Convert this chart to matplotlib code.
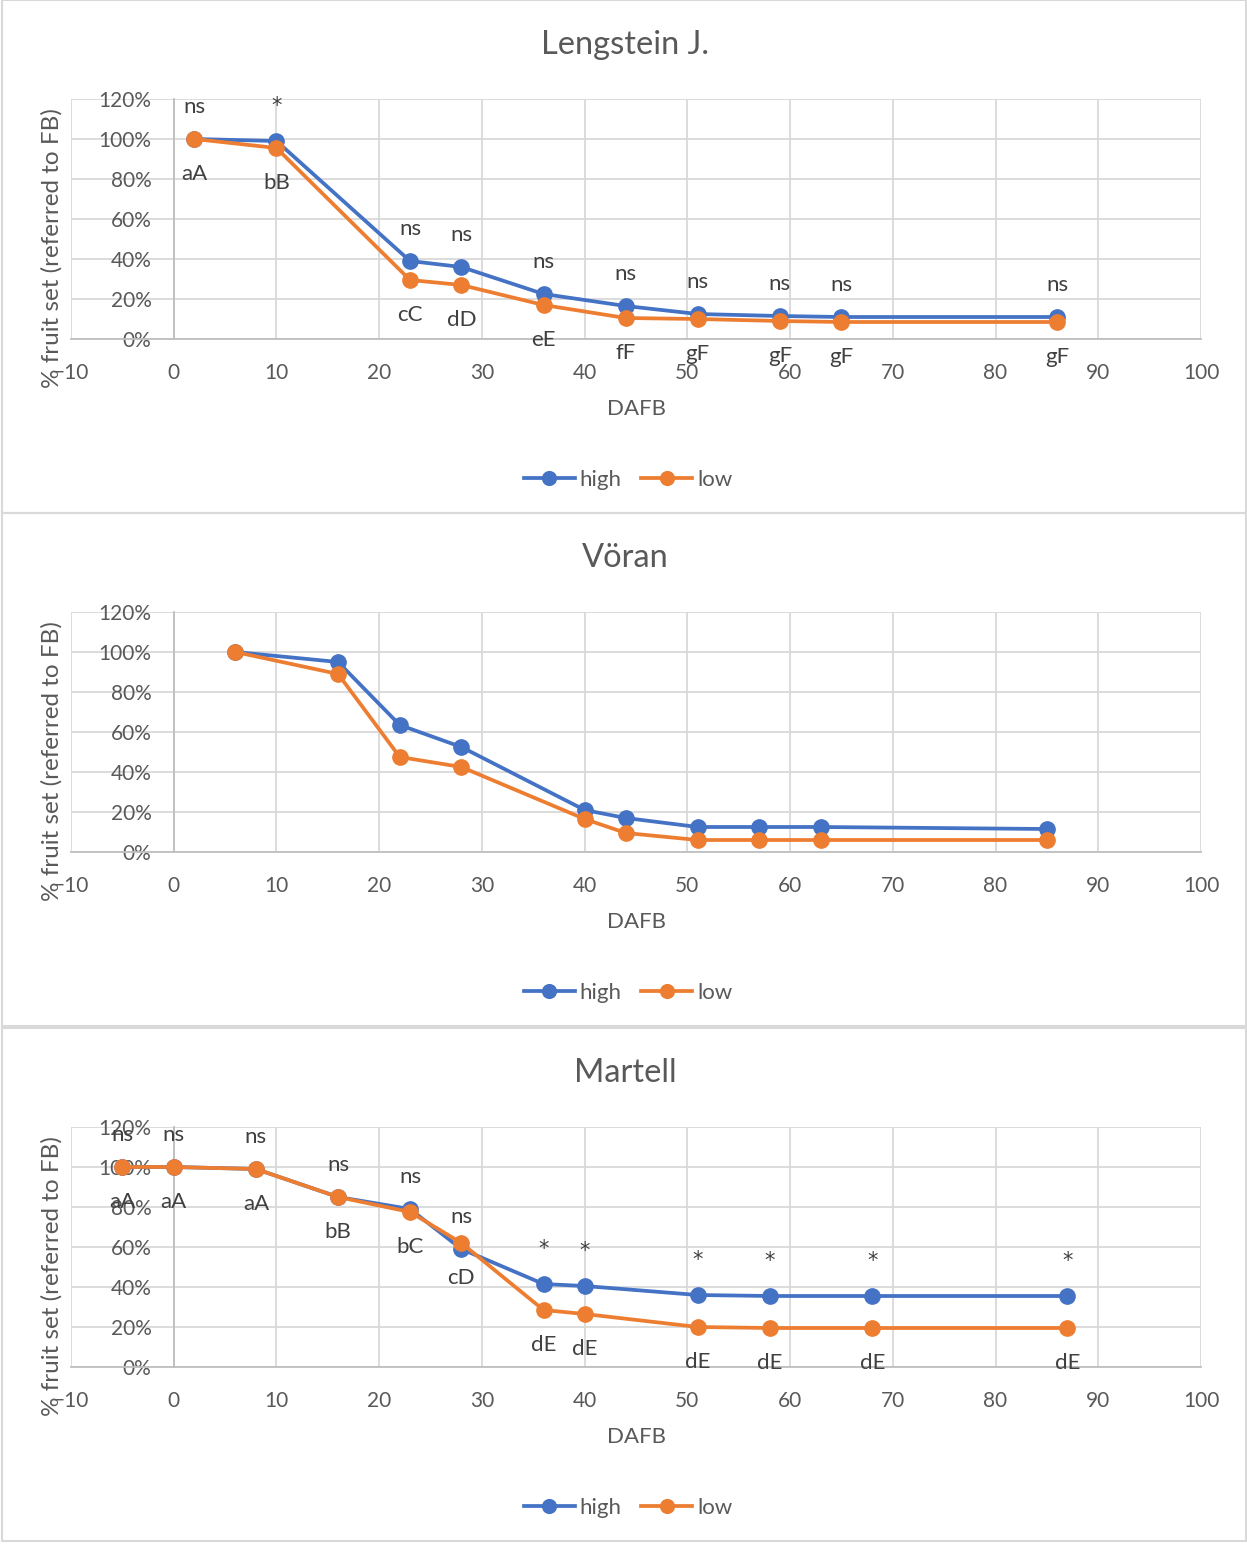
import matplotlib
matplotlib.use("Agg")
import matplotlib.pyplot as plt
from matplotlib.patches import Rectangle
from matplotlib.ticker import FuncFormatter

plt.rcParams['font.family'] = ['Lato', 'DejaVu Sans']

# data (x = DAFB, y = % fruit set)
len_x = [2, 10, 23, 28, 36, 44, 51, 59, 65, 86]
len_high = [100, 99, 39, 36, 22.5, 16.5, 12.5, 11.5, 11, 11]
len_low = [100, 95.5, 29.5, 27, 17, 10.5, 10, 9, 8.5, 8.5]
len_top = ['ns', '*', 'ns', 'ns', 'ns', 'ns', 'ns', 'ns', 'ns', 'ns']
len_bot = ['aA', 'bB', 'cC', 'dD', 'eE', 'fF', 'gF', 'gF', 'gF', 'gF']

vor_x = [6, 16, 22, 28, 40, 44, 51, 57, 63, 85]
vor_high = [100, 95, 63.5, 52.5, 21, 17, 12.5, 12.5, 12.5, 11.5]
vor_low = [100, 89, 47.5, 42.5, 16.5, 9.5, 6, 6, 6, 6]

mar_x = [-5, 0, 8, 16, 23, 28, 36, 40, 51, 58, 68, 87]
mar_high = [100, 100, 99, 85, 79, 59, 41.5, 40.5, 36, 35.5, 35.5, 35.5]
mar_low = [100, 100, 99, 85, 77.5, 62, 28.5, 26.5, 20, 19.5, 19.5, 19.5]
mar_top = ['ns', 'ns', 'ns', 'ns', 'ns', 'ns', '*', '*', '*', '*', '*', '*']
mar_bot = ['aA', 'aA', 'aA', 'bB', 'bC', 'cD', 'dE', 'dE', 'dE', 'dE', 'dE', 'dE']

BLUE = '#4472C4'
ORANGE = '#ED7D31'
TXT = '#595959'
GRID = '#d9d9d9'

W, H = 1247, 1544
fig = plt.figure(figsize=(W / 100, H / 100), dpi=100)


def fx(px):
    return px / W


def fy(py):
    return 1 - py / H


panels = [
    # title, x, high, low, top labels, bottom labels, panel top px
    ('Lengstein J.', len_x, len_high, len_low, len_top, len_bot, 0),
    ('Vöran', vor_x, vor_high, vor_low, None, None, 513),
    ('Martell', mar_x, mar_high, mar_low, mar_top, mar_bot, 1028),
]

for title, xs, hi, lo, top, bot, p0 in panels:
    # panel border
    fig.add_artist(Rectangle((fx(2), fy(p0 + 513)), fx(1244), 513 / H,
                             transform=fig.transFigure, fill=False,
                             edgecolor=GRID, lw=1.5))

    ax_top = p0 + 99
    ax_bot = p0 + 339
    ax = fig.add_axes([fx(71), fy(ax_bot), fx(1130), (ax_bot - ax_top) / H])

    ax.plot(xs, hi, color=BLUE, lw=2.7, marker='o', ms=11, label='high', zorder=3)
    ax.plot(xs, lo, color=ORANGE, lw=2.7, marker='o', ms=11, label='low', zorder=4)

    if top is not None:
        for x, y, t in zip(xs, hi, top):
            if t == '*':
                ax.annotate(t, (x, y), xytext=(0, 25), textcoords='offset points',
                            ha='center', va='center', fontsize=15,
                            family='DejaVu Sans', color='#404040')
            else:
                ax.annotate(t, (x, y), xytext=(0, 23), textcoords='offset points',
                            ha='center', va='center', fontsize=16, color='#404040')
        for x, y, t in zip(xs, lo, bot):
            ax.annotate(t, (x, y), xytext=(0, -25), textcoords='offset points',
                        ha='center', va='center', fontsize=16, color='#404040')

    ax.set_xlim(-10, 100)
    ax.set_ylim(0, 120)
    ax.set_xticks(range(-10, 101, 10))
    ax.set_yticks(range(0, 121, 20))
    ax.yaxis.set_major_formatter(FuncFormatter(lambda v, p: '%d%%' % v))
    ax.grid(True, color=GRID, lw=1.3)
    ax.set_axisbelow(True)
    for s in ['top', 'right']:
        ax.spines[s].set_visible(False)
    ax.spines['left'].set_position(('data', 0))
    ax.spines['left'].set_color('#bfbfbf')
    ax.spines['bottom'].set_color('#bfbfbf')
    ax.spines['left'].set_linewidth(1.3)
    ax.spines['bottom'].set_linewidth(1.3)
    ax.tick_params(length=0, labelsize=15, labelcolor=TXT)
    ax.tick_params(axis='x', pad=17)
    ax.tick_params(axis='y', pad=16)
    ax.set_facecolor('none')

    fig.text(fx(625), fy(p0 + 45), title, ha='center', va='center',
             fontsize=23.5, color=TXT)
    fig.text(fx(52), fy(p0 + 248), '% fruit set (referred to FB)', rotation=90,
             ha='center', va='center', fontsize=17.5, color=TXT)
    fig.text(fx(636), fy(p0 + 409), 'DAFB', ha='center', va='center',
             fontsize=16, color=TXT)
    fig.legend(*ax.get_legend_handles_labels(), loc='center',
               bbox_to_anchor=(fx(628), fy(p0 + 480)), ncol=2, frameon=False,
               fontsize=16, labelcolor=TXT, handlelength=2.3,
               columnspacing=0.9, handletextpad=0.2, markerscale=0.9)

fig.savefig('out.png', dpi=100, facecolor='white')
